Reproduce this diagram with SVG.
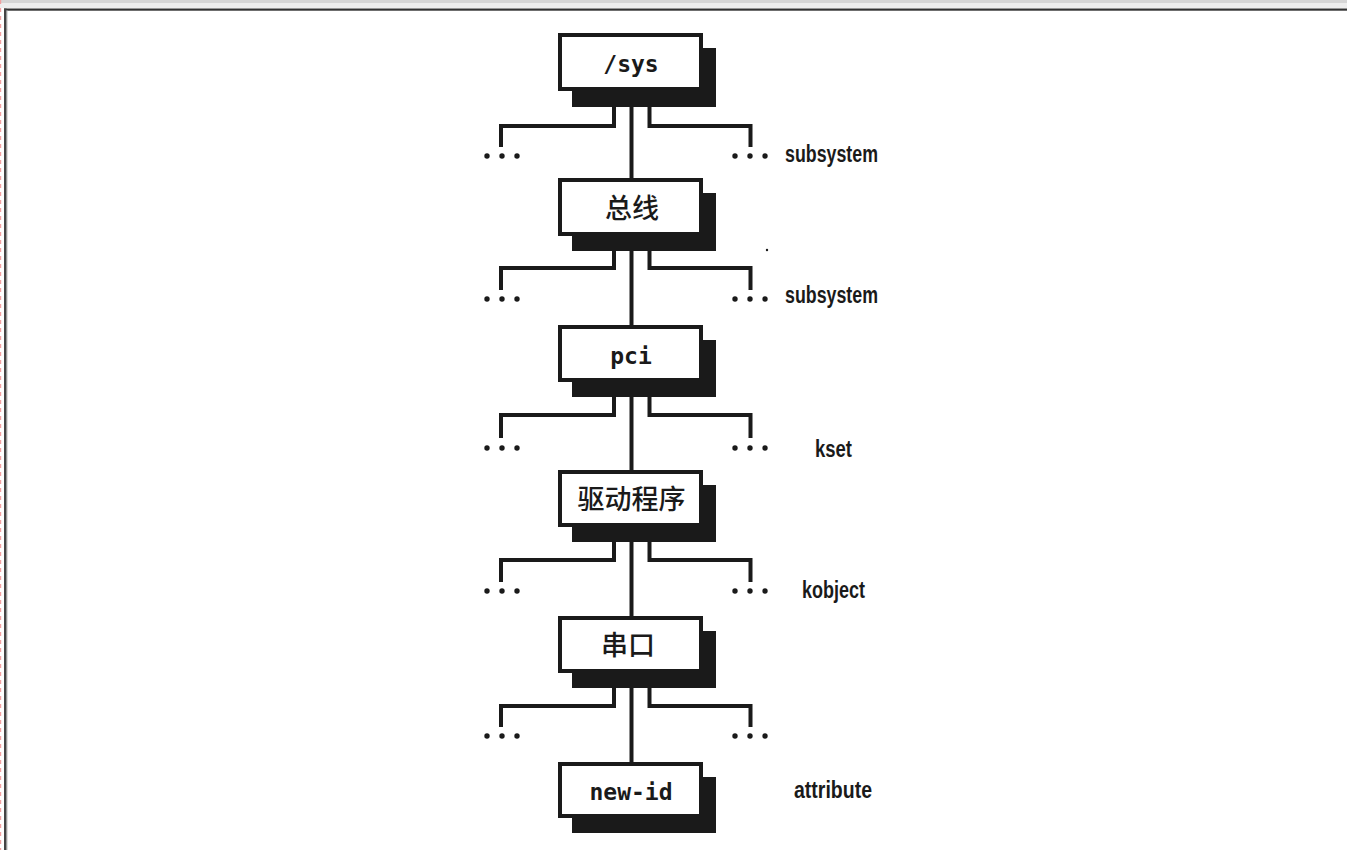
<svg xmlns="http://www.w3.org/2000/svg" width="1347" height="850" viewBox="0 0 1347 850">
<style>
.box{fill:#fff;stroke:#1a1a1a;stroke-width:4}
.sh{fill:#1a1a1a}
.mono{font-family:"DejaVu Sans Mono","Liberation Mono",monospace;font-weight:bold;font-size:23px;fill:#1a1a1a;text-anchor:middle}
.cjk{font-family:"Noto Sans CJK SC","Noto Sans",sans-serif;font-weight:500;font-size:27px;fill:#1a1a1a;text-anchor:middle}
.lbl{font-family:"Liberation Sans",Arial,sans-serif;font-weight:bold;font-size:23px;fill:#1a1a1a}
.ln{fill:none;stroke:#1a1a1a;stroke-width:4;stroke-linejoin:miter;stroke-linecap:butt}
.dot{fill:#1a1a1a}
</style>
<defs>
<g id="dots"><circle cx="0" cy="0" r="2.7"/><circle cx="15" cy="0" r="2.7"/><circle cx="30" cy="0" r="2.7"/></g>
</defs>
<rect x="0" y="0" width="1347" height="850" fill="#fff"/>
<!-- frame -->
<rect x="0" y="0" width="1347" height="3" fill="#d6d6d6"/>
<rect x="0" y="3" width="1347" height="5" fill="#eeeeee"/>
<rect x="4" y="8.5" width="1343" height="2.2" fill="#333"/>
<rect x="4" y="8.5" width="2.6" height="842" fill="#444"/>
<rect x="6.6" y="10" width="0.8" height="840" fill="#aaa"/>
<line x1="0.6" y1="0" x2="0.6" y2="850" stroke="#f2a0a0" stroke-width="1.2" stroke-dasharray="4,4"/>

<g id="connectors">
<!-- row 0 -->
<path class="ln" d="M631.5 90 V178"/>
<path class="ln" d="M614 105 V126 H501 V147"/>
<path class="ln" d="M649.5 105 V126 H750.5 V147"/>
<!-- row 1 -->
<path class="ln" d="M631.5 235 V325"/>
<path class="ln" d="M614 250 V268 H501 V290"/>
<path class="ln" d="M649.5 250 V268 H750.5 V290"/>
<!-- row 2 -->
<path class="ln" d="M631.5 381 V470"/>
<path class="ln" d="M614 396 V415 H501 V438"/>
<path class="ln" d="M649.5 396 V415 H750.5 V438"/>
<!-- row 3 -->
<path class="ln" d="M631.5 526 V616"/>
<path class="ln" d="M614 541 V560 H501 V582"/>
<path class="ln" d="M649.5 541 V560 H750.5 V582"/>
<!-- row 4 -->
<path class="ln" d="M631.5 672 V762"/>
<path class="ln" d="M614 687 V706 H501 V727"/>
<path class="ln" d="M649.5 687 V706 H750.5 V727"/>
</g>

<g id="dots-group" class="dot">
<use href="#dots" x="487" y="156"/><use href="#dots" x="735" y="156"/>
<use href="#dots" x="487" y="299"/><use href="#dots" x="735" y="299"/>
<use href="#dots" x="487" y="448"/><use href="#dots" x="735" y="448"/>
<use href="#dots" x="487" y="591"/><use href="#dots" x="735" y="591"/>
<use href="#dots" x="487" y="736"/><use href="#dots" x="735" y="736"/>
<circle cx="767" cy="250" r="1.2"/>
</g>

<g id="node-sys">
<rect class="sh" x="572" y="48" width="144" height="59"/>
<rect class="box" x="560" y="35" width="141" height="54"/>
<text class="mono" x="631" y="72">/sys</text>
</g>
<g id="node-bus">
<rect class="sh" x="572" y="193" width="144" height="58"/>
<rect class="box" x="560" y="180" width="141" height="54"/>
<text class="cjk" x="632" y="218">总线</text>
</g>
<g id="node-pci">
<rect class="sh" x="572" y="340" width="144" height="57"/>
<rect class="box" x="560" y="327" width="141" height="53"/>
<text class="mono" x="631" y="364">pci</text>
</g>
<g id="node-driver">
<rect class="sh" x="572" y="485" width="144" height="57"/>
<rect class="box" x="560" y="472" width="141" height="53"/>
<text class="cjk" x="631.5" y="509">驱动程序</text>
</g>
<g id="node-serial">
<rect class="sh" x="572" y="631" width="144" height="57"/>
<rect class="box" x="560" y="618" width="141" height="53"/>
<text class="cjk" x="628" y="655">串口</text>
</g>
<g id="node-newid">
<rect class="sh" x="572" y="777" width="144" height="56"/>
<rect class="box" x="560" y="764" width="141" height="52"/>
<text class="mono" x="631" y="800">new-id</text>
</g>

<g id="labels">
<text class="lbl" x="785" y="162" textLength="93" lengthAdjust="spacingAndGlyphs">subsystem</text>
<text class="lbl" x="785" y="303" textLength="93" lengthAdjust="spacingAndGlyphs">subsystem</text>
<text class="lbl" x="815" y="457" textLength="37" lengthAdjust="spacingAndGlyphs">kset</text>
<text class="lbl" x="802" y="598" textLength="63" lengthAdjust="spacingAndGlyphs">kobject</text>
<text class="lbl" x="794" y="798" textLength="78" lengthAdjust="spacingAndGlyphs">attribute</text>
</g>
</svg>
